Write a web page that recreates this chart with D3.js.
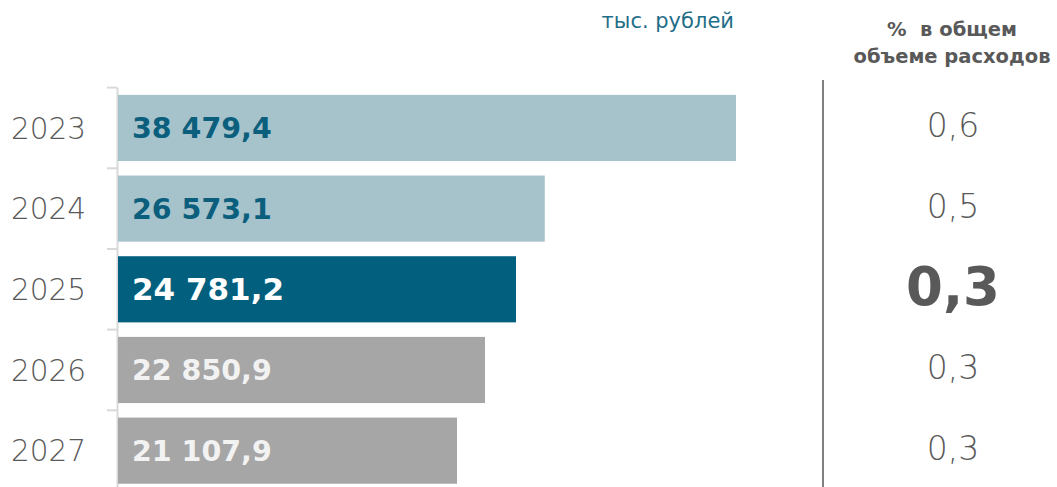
<!DOCTYPE html>
<html><head><meta charset="utf-8">
<script src="https://cdn.jsdelivr.net/npm/d3@7"></script>
<style>body{margin:0;background:#fff;}svg{display:block;font-family:"DejaVu Sans",sans-serif;}</style>
</head><body><svg id="c" width="1057" height="487"></svg>
<script>
const years = ["2023","2024","2025","2026","2027"];
const values = [38479.4, 26573.1, 24781.2, 22850.9, 21107.9];
const valueLabels = ["38 479,4","26 573,1","24 781,2","22 850,9","21 107,9"];
const shares = ["0,6","0,5","0,3","0,3","0,3"];
const highlight = "2025";
const unitLabel = "тыс. рублей";
const shareTitle = ["%  в общем", "объеме расходов"];

const svg = d3.select("#c");
const x = d3.scaleLinear().domain([0, 38479.4]).range([118, 736]);
const y = d3.scaleBand().domain(years).range([87.6, 491]).paddingInner(0.18).paddingOuter(0.09);

const barColor = (d,i) => d === highlight ? "#035f7e" : (i < 2 ? "#a6c3cc" : "#a6a6a6");
const labelColor = (d,i) => d === highlight ? "#ffffff" : (i < 2 ? "#0b5f7d" : "#f2f2f2");

// axis with ticks at band edges
const edges = years.map(d => y(d) - y.step()*y.paddingInner()/2);
svg.append("line").attr("x1",117.5).attr("x2",117.5).attr("y1",87.6).attr("y2",487)
  .attr("stroke","#d9d9d9").attr("stroke-width",2);
svg.selectAll("line.tk").data(edges).join("line").attr("class","tk")
  .attr("x1",107).attr("x2",117).attr("y1",d=>d).attr("y2",d=>d)
  .attr("stroke","#d9d9d9").attr("stroke-width",2);

svg.selectAll("rect.bar").data(years).join("rect").attr("class","bar")
  .attr("x", x(0)).attr("y", d => y(d)).attr("height", y.bandwidth())
  .attr("width", (d,i) => x(values[i]) - x(0)).attr("fill", barColor);

svg.selectAll("text.val").data(years).join("text").attr("class","val")
  .attr("x", x(0) + 14).attr("y", d => y(d) + y.bandwidth()/2).attr("dy","0.36em")
  .attr("font-size", d => d === highlight ? 31 : 28.5).attr("font-weight", 700)
  .attr("fill", labelColor).text((d,i) => valueLabels[i]);

svg.selectAll("text.yr").data(years).join("text").attr("class","yr")
  .attr("x", 86).attr("y", d => y(d) + y.bandwidth()/2).attr("dy","0.36em")
  .attr("text-anchor","end").attr("font-size",29.5).attr("font-weight",200)
  .attr("fill","#595959").text(d => d);

// separator
svg.append("line").attr("x1",823).attr("x2",823).attr("y1",80).attr("y2",487)
  .attr("stroke","#7f7f7f").attr("stroke-width",2);

svg.selectAll("text.sh").data(years).join("text").attr("class","sh")
  .attr("x", 953).attr("y", d => y(d) + y.bandwidth()/2 - 3).attr("dy","0.36em")
  .attr("text-anchor","middle")
  .attr("font-size", d => d === highlight ? 53 : 33)
  .attr("font-weight", d => d === highlight ? 700 : 200)
  .attr("fill","#595959").text((d,i) => shares[i]);

svg.selectAll("text.ttl").data(shareTitle).join("text").attr("class","ttl")
  .attr("x", 952).attr("y", (d,i) => 36 + i*27).attr("text-anchor","middle")
  .attr("font-size",19.5).attr("font-weight",700).attr("fill","#595959")
  .attr("xml:space","preserve").style("white-space","pre").text(d => d);

svg.append("text").attr("x",734).attr("y",28).attr("text-anchor","end")
  .attr("font-size",21).attr("fill","#1f6e88").text(unitLabel);
</script></body></html>
